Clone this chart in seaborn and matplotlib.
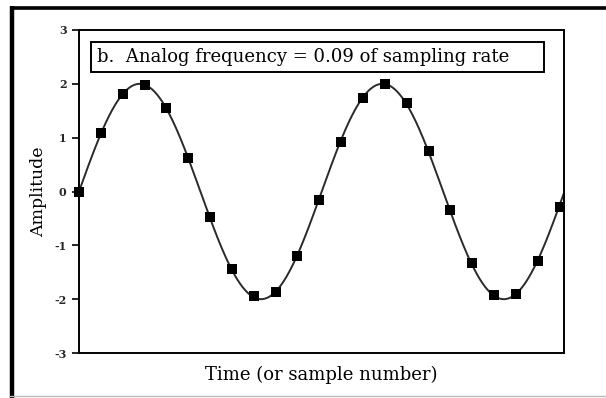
import numpy as np
import pandas as pd
import matplotlib
matplotlib.use("Agg")
import matplotlib.pyplot as plt
import seaborn as sns
from matplotlib.patches import Rectangle
from matplotlib.lines import Line2D

# ---- data ----
sample_number = list(range(23))
sample_amplitude = [0.0, 1.08, 1.82, 1.98, 1.55, 0.63, -0.48, -1.44, -1.95, -1.87,
                    -1.20, -0.15, 0.92, 1.73, 2.0, 1.64, 0.76, -0.34, -1.33, -1.92,
                    -1.91, -1.30, -0.28]
analog_amplitude = 2.0
analog_frequency = 0.09          # cycles per sample (stated in the chart)
x_limits = [0, 22.2]
y_ticks = [-3, -2, -1, 0, 1, 2, 3]
title_text = "b.  Analog frequency = 0.09 of sampling rate"
x_label = "Time (or sample number)"
y_label = "Amplitude"

sns.set_theme(style="white")
plt.rcParams["font.family"] = ["DejaVu Serif"]

fig = plt.figure(figsize=(6.06, 3.98), dpi=100)
ax = fig.add_axes([79 / 606, 1 - 353 / 398, 485 / 606, 323 / 398])

t = np.linspace(x_limits[0], x_limits[1], 600)
curve = pd.DataFrame({"t": t, "a": analog_amplitude * np.sin(2 * np.pi * analog_frequency * t)})
samples = pd.DataFrame({"n": sample_number, "a": sample_amplitude})

sns.lineplot(data=curve, x="t", y="a", ax=ax, color="#2a2a2a", linewidth=1.4)
sns.scatterplot(data=samples, x="n", y="a", ax=ax, marker="s", s=46, color="black",
                edgecolor="black", linewidth=0, zorder=5, clip_on=False)

ax.set_xlim(*x_limits)
ax.set_ylim(-3, 3)
ax.set_xticks([])
ax.set_yticks(y_ticks)
ax.set_yticklabels([str(v) for v in y_ticks], fontsize=8, fontweight="bold")
ax.tick_params(axis="y", which="both", left=True, length=5, width=1.2, color="black", pad=4)
ax.set_xlabel(x_label, fontsize=13, labelpad=9, color="black")
ax.set_ylabel(y_label, fontsize=12.5, labelpad=5, color="black")
for s in ax.spines.values():
    s.set_visible(True)
    s.set_color("black")
    s.set_linewidth(1.4)

# caption box inside the plot
ax.add_patch(Rectangle((12 / 485, (353 - 72) / 323), (544 - 91) / 485, 30 / 323,
                       transform=ax.transAxes, fill=False, edgecolor="black",
                       linewidth=1.4, zorder=6))
ax.text(18 / 485, (353 - 57) / 323, title_text, transform=ax.transAxes,
        fontsize=13, va="center", ha="left", zorder=7, color="black")

# outer page frame
fig.add_artist(Line2D([11.5 / 606, 11.5 / 606], [0, 1 - 6 / 398], transform=fig.transFigure,
                      color="black", linewidth=3.2, solid_capstyle="butt"))
fig.add_artist(Line2D([10 / 606, 1], [1 - 7.5 / 398, 1 - 7.5 / 398], transform=fig.transFigure,
                      color="black", linewidth=2.6, solid_capstyle="butt"))
fig.add_artist(Line2D([10 / 606, 1], [1 - 396 / 398, 1 - 396 / 398], transform=fig.transFigure,
                      color="#bbbbbb", linewidth=1.0))

fig.savefig("out.png", dpi=100)
